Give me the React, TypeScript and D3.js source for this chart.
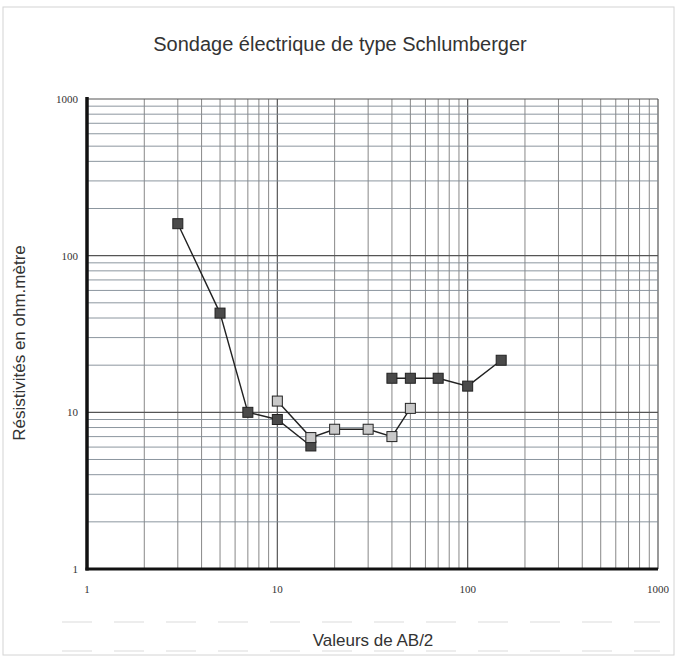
import React, { useEffect, useRef } from 'react';
import * as d3 from 'd3';

// AB/2 values and apparent resistivities
const darkAB1 = [3, 5, 7, 10, 15];
const darkRho1 = [160, 43, 10, 9, 6.1];
const lightAB = [10, 15, 20, 30, 40, 50];
const lightRho = [11.8, 6.9, 7.8, 7.8, 7.0, 10.6];
const darkAB2 = [40, 50, 70, 100, 150];
const darkRho2 = [16.5, 16.5, 16.5, 14.7, 21.5];
const tickLabels = [1, 10, 100, 1000];

export default function App() {
  const svgRef = useRef<SVGSVGElement | null>(null);

  useEffect(() => {
    if (!svgRef.current) return;
    d3.select(svgRef.current).selectAll('*').remove();

    const width = 677;
    const height = 657;
    const left = 87;
    const right = 658;
    const top = 99;
    const bottom = 569;

    const svg = d3.select(svgRef.current)
      .attr('width', width)
      .attr('height', height);

    svg.append('rect')
      .attr('width', width).attr('height', height)
      .style('fill', '#ffffff');

    // faint frame of the scanned page
    svg.append('rect')
      .attr('x', 3).attr('y', 7).attr('width', width - 6).attr('height', height - 9)
      .style('fill', 'none').style('stroke', '#d4d4d4').style('stroke-width', 1);

    // faint scan streaks under the axis
    [622, 651].forEach(yy => {
      svg.append('line')
        .attr('x1', 62).attr('x2', 660).attr('y1', yy).attr('y2', yy)
        .style('stroke', '#dcdcdc').style('stroke-width', 1.2)
        .style('stroke-dasharray', '30,22');
    });

    const x = d3.scaleLog().domain([1, 1000]).range([left, right]);
    const y = d3.scaleLog().domain([1, 1000]).range([bottom, top]);

    // grid values: 1..9 in each decade
    const gridVals: number[] = [];
    [1, 10, 100].forEach(d => {
      for (let k = 1; k <= 9; k++) gridVals.push(k * d);
    });
    gridVals.push(1000);

    const grid = svg.append('g');
    grid.selectAll('line.v')
      .data(gridVals)
      .enter().append('line')
      .attr('x1', d => x(d)).attr('x2', d => x(d))
      .attr('y1', top).attr('y2', bottom)
      .style('stroke', d => tickLabels.includes(d) ? '#555' : '#7a7a7a')
      .style('stroke-width', d => tickLabels.includes(d) ? 1.2 : 0.9);

    grid.selectAll('line.h')
      .data(gridVals)
      .enter().append('line')
      .attr('y1', d => y(d)).attr('y2', d => y(d))
      .attr('x1', left).attr('x2', right)
      .style('stroke', d => tickLabels.includes(d) ? '#555' : '#7f8a94')
      .style('stroke-width', d => tickLabels.includes(d) ? 1.2 : 0.9);

    // heavy left and bottom axes
    svg.append('line')
      .attr('x1', left).attr('x2', left).attr('y1', top - 2).attr('y2', bottom + 1.5)
      .style('stroke', '#111').style('stroke-width', 3.5);
    svg.append('line')
      .attr('x1', left - 1.5).attr('x2', right).attr('y1', bottom).attr('y2', bottom)
      .style('stroke', '#111').style('stroke-width', 3);

    // tick labels
    svg.selectAll('text.xt')
      .data(tickLabels)
      .enter().append('text')
      .attr('x', d => x(d)).attr('y', bottom + 24)
      .attr('text-anchor', 'middle')
      .style('font-family', '"Liberation Serif", "DejaVu Serif", serif')
      .style('font-size', '11px')
      .style('fill', '#333')
      .text(d => d);

    svg.selectAll('text.yt')
      .data(tickLabels)
      .enter().append('text')
      .attr('x', left - 9).attr('y', d => y(d) + 4)
      .attr('text-anchor', 'end')
      .style('font-family', '"Liberation Serif", "DejaVu Serif", serif')
      .style('font-size', '11px')
      .style('fill', '#333')
      .text(d => d);

    // title and axis titles
    svg.append('text')
      .attr('x', 340).attr('y', 51)
      .attr('text-anchor', 'middle')
      .style('font-family', '"Liberation Sans", Arial, sans-serif')
      .style('font-size', '20px')
      .style('fill', '#333')
      .text('Sondage électrique de type Schlumberger');

    svg.append('text')
      .attr('x', 373).attr('y', 646)
      .attr('text-anchor', 'middle')
      .style('font-family', '"Liberation Sans", Arial, sans-serif')
      .style('font-size', '17px')
      .style('fill', '#333')
      .text('Valeurs de AB/2');

    svg.append('text')
      .attr('transform', `translate(25,${343}) rotate(-90)`)
      .attr('text-anchor', 'middle')
      .style('font-family', '"Liberation Sans", Arial, sans-serif')
      .style('font-size', '17px')
      .style('fill', '#333')
      .text('Résistivités en ohm.mètre');

    const line = d3.line<[number, number]>()
      .x(d => x(d[0]))
      .y(d => y(d[1]));

    const series = [
      { ab: darkAB1, rho: darkRho1, fill: '#4a4a4a' },
      { ab: lightAB, rho: lightRho, fill: '#c9c9c9' },
      { ab: darkAB2, rho: darkRho2, fill: '#4a4a4a' },
    ];

    series.forEach(s => {
      const pts: [number, number][] = s.ab.map((a, i) => [a, s.rho[i]]);
      svg.append('path')
        .datum(pts)
        .attr('d', line)
        .style('fill', 'none')
        .style('stroke', '#222')
        .style('stroke-width', 1.4);
    });

    series.forEach(s => {
      const pts: [number, number][] = s.ab.map((a, i) => [a, s.rho[i]]);
      svg.append('g').selectAll('rect')
        .data(pts)
        .enter().append('rect')
        .attr('x', d => x(d[0]) - 5).attr('y', d => y(d[1]) - 5)
        .attr('width', 10).attr('height', 10)
        .style('fill', s.fill)
        .style('stroke', '#222')
        .style('stroke-width', 1);
    });
  }, []);

  return (
    <svg ref={svgRef} style={{ position: 'absolute', left: 0, top: 0, display: 'block' }}></svg>
  );
}
